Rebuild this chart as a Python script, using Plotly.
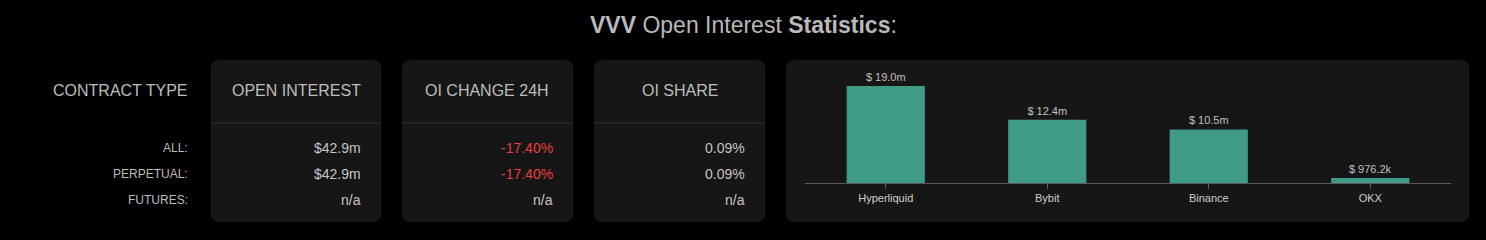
import plotly.graph_objects as go

W, H = 1486, 240

# ---- data ----
exchanges = ["Hyperliquid", "Bybit", "Binance", "OKX"]
exchange_oi_musd = [19.0, 12.4, 10.5, 0.9762]

row_labels = ["ALL:", "PERPETUAL:", "FUTURES:"]
card_headers = ["OPEN INTEREST", "OI CHANGE 24H", "OI SHARE"]
open_interest = ["$42.9m", "$42.9m", "n/a"]
oi_change_24h = ["-17.40%", "-17.40%", "n/a"]
oi_share = ["0.09%", "0.09%", "n/a"]
coin = "VVV"

# ---- styling ----
BG = "#000000"
CARD = "#161616"
SEP = "#242424"
TXT = "#c4c4c4"
RED = "#e8403c"
BAR = "#409b86"
FONT = "Arial, 'Liberation Sans', sans-serif"


def px(x):
    return x / W


def py(y):
    return 1 - y / H


def fmt(v):
    return f"$ {v:.1f}m" if v >= 1 else f"$ {v * 1000:.1f}k"


def rrect(x0, y0, x1, y1, r=8):
    X0, X1 = px(x0), px(x1)
    Y0, Y1 = py(y0), py(y1)
    rx, ry = r / W, r / H
    return (f"M {X0+rx},{Y0} L {X1-rx},{Y0} Q {X1},{Y0} {X1},{Y0-ry} "
            f"L {X1},{Y1+ry} Q {X1},{Y1} {X1-rx},{Y1} L {X0+rx},{Y1} "
            f"Q {X0},{Y1} {X0},{Y1+ry} L {X0},{Y0-ry} Q {X0},{Y0} {X0+rx},{Y0} Z")


fig = go.Figure()

fig.add_trace(go.Bar(
    x=exchanges, y=exchange_oi_musd,
    marker=dict(color=BAR, line=dict(width=0)),
    text=[fmt(v) for v in exchange_oi_musd],
    textposition="outside",
    textfont=dict(size=11, color="#c0c0c0", family=FONT),
    cliponaxis=False,
    hoverinfo="skip",
))

shapes = []
annotations = []

# cards
card_x = [(211, 381), (402, 573), (594, 765)]
card_top, card_bot = 60, 222
for (x0, x1) in card_x:
    shapes.append(dict(type="path", path=rrect(x0, card_top, x1, card_bot),
                       xref="paper", yref="paper", fillcolor=CARD,
                       line=dict(width=0), layer="below"))
    shapes.append(dict(type="line", xref="paper", yref="paper",
                       x0=px(x0), x1=px(x1), y0=py(123), y1=py(123),
                       line=dict(color=SEP, width=2), layer="below"))
shapes.append(dict(type="path", path=rrect(786, card_top, 1469, card_bot),
                   xref="paper", yref="paper", fillcolor=CARD,
                   line=dict(width=0), layer="below"))

# title
annotations.append(dict(
    text=f"<b>{coin}</b> Open Interest <b>Statistics</b>:",
    x=px(744), y=py(25), xref="paper", yref="paper", showarrow=False,
    xanchor="center", yanchor="middle",
    font=dict(size=23, color="#b9b9b9", family=FONT)))

# contract type column
annotations.append(dict(text="CONTRACT TYPE", x=px(190), y=py(90),
                        xref="paper", yref="paper", showarrow=False,
                        xanchor="right", yanchor="middle",
                        font=dict(size=16, color="#bdbdbd", family=FONT)))
row_y = [148, 174, 200]
for lab, yy in zip(row_labels, row_y):
    annotations.append(dict(text=lab, x=px(190), y=py(yy),
                            xref="paper", yref="paper", showarrow=False,
                            xanchor="right", yanchor="middle",
                            font=dict(size=12, color="#bdbdbd", family=FONT)))

cols = [open_interest, oi_change_24h, oi_share]
for (x0, x1), head, vals in zip(card_x, card_headers, cols):
    annotations.append(dict(text=head, x=px((x0 + x1) / 2), y=py(90),
                            xref="paper", yref="paper", showarrow=False,
                            xanchor="center", yanchor="middle",
                            font=dict(size=16, color="#bdbdbd", family=FONT)))
    for v, yy in zip(vals, row_y):
        col = RED if v.startswith("-") else TXT
        annotations.append(dict(text=v, x=px(x1 - 18), y=py(yy),
                                xref="paper", yref="paper", showarrow=False,
                                xanchor="right", yanchor="middle",
                                font=dict(size=14, color=col, family=FONT)))

# bar chart geometry
base_px, top_px = 183, 70
ymax = max(exchange_oi_musd) * (base_px - top_px) / (base_px - 86)

fig.update_layout(
    width=W, height=H,
    margin=dict(l=0, r=0, t=0, b=0),
    paper_bgcolor=BG, plot_bgcolor="rgba(0,0,0,0)",
    showlegend=False,
    bargap=0.516,
    shapes=shapes, annotations=annotations,
    font=dict(family=FONT),
    xaxis=dict(domain=[px(805), px(1451)], showline=True, linecolor="#5a5a5a",
               linewidth=1, ticks="outside", ticklen=5, tickcolor="#5a5a5a",
               tickfont=dict(size=11, color="#cfcfcf", family=FONT),
               showgrid=False, zeroline=False, fixedrange=True),
    yaxis=dict(domain=[py(base_px), py(top_px)], range=[0, ymax],
               visible=False, showgrid=False, zeroline=False, fixedrange=True),
)

fig.write_html("out.html", config={"displayModeBar": False})
